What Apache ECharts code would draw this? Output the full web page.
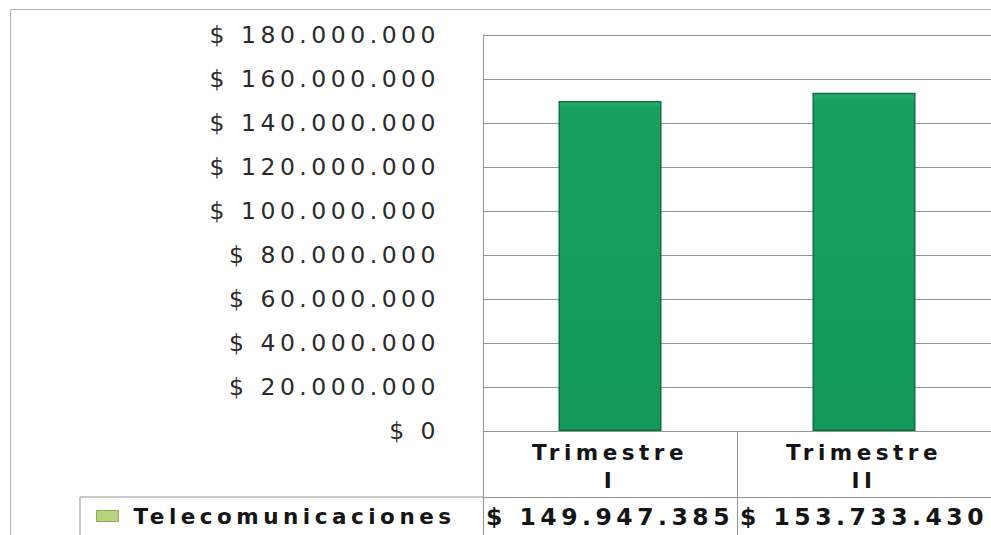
<!DOCTYPE html>
<html>
<head>
<meta charset="utf-8">
<script src="https://cdn.jsdelivr.net/npm/echarts@6/dist/echarts.min.js"></script>
<style>
  html, body { margin: 0; padding: 0; background: #fff; }
  #chart { width: 991px; height: 535px; }
  #chart svg text { letter-spacing: 4.5px; }
</style>
</head>
<body>
<div id="chart"></div>
<script>
const categories = ['Trimestre\nI', 'Trimestre\nII'];
const seriesName = 'Telecomunicaciones';
const values = [149947385, 153733430];
const yMin = 0, yMax = 180000000, yStep = 20000000;

function fmt(n) {
  return '$ ' + String(n).replace(/\B(?=(\d{3})+(?!\d))/g, '.');
}

const chart = echarts.init(document.getElementById('chart'), null, { renderer: 'svg' });
const lineCol = '#959595';
chart.setOption({
  animation: false,
  backgroundColor: '#fff',
  textStyle: { fontFamily: 'DejaVu Sans' },
  graphic: [{
    type: 'rect', silent: true,
    shape: { x: 10.5, y: 9.5, width: 1000, height: 600 },
    style: { fill: 'none', stroke: '#b0b0b0', lineWidth: 1 }
  }],
  grid: { left: 483, top: 35, right: 0, bottom: 104, containLabel: false },
  legend: {
    data: [seriesName],
    left: 80, top: 497,
    padding: [8, 109, 20, 16],
    borderColor: lineCol, borderWidth: 1,
    icon: 'rect', itemWidth: 22, itemHeight: 11, itemGap: 10,
    itemStyle: { color: '#b9d27e', borderColor: '#8fae55', borderWidth: 1 },
    textStyle: {
      fontFamily: 'DejaVu Sans', fontWeight: 'bold', fontSize: 21.5, color: '#151515',
      padding: [0, 0, 0, 10]
    }
  },
  xAxis: [{
    type: 'category', data: categories, position: 'bottom',
    axisLine: { show: true, lineStyle: { color: lineCol, width: 1 } },
    axisTick: { show: true, alignWithLabel: false, length: 104, lineStyle: { color: lineCol } },
    axisLabel: {
      fontFamily: 'DejaVu Sans', fontWeight: 'bold', fontSize: 21.5, color: '#151515',
      lineHeight: 28, margin: 7, interval: 0
    },
    splitLine: { show: false }
  }, {
    type: 'category', data: categories, position: 'bottom', offset: 66,
    axisLine: { show: true, lineStyle: { color: lineCol, width: 1 } },
    axisTick: { show: false },
    axisLabel: {
      fontFamily: 'DejaVu Sans', fontWeight: 'bold', fontSize: 23.5, color: '#151515',
      margin: 8, interval: 0,
      formatter: function (v, i) { return fmt(values[i]); }
    }
  }],
  yAxis: {
    type: 'value', min: yMin, max: yMax, interval: yStep,
    axisLine: { show: true, lineStyle: { color: lineCol } },
    axisTick: { show: false },
    splitLine: { show: true, lineStyle: { color: lineCol, width: 1 } },
    axisLabel: {
      fontFamily: 'DejaVu Sans', fontSize: 23.5, color: '#2a2a2a', margin: 43,
      formatter: function (v) { return fmt(v); }
    }
  },
  series: [{
    name: seriesName, type: 'bar', xAxisIndex: 0, data: values, barWidth: 103,
    itemStyle: {
      color: new echarts.graphic.LinearGradient(0, 0, 0, 1, [
        { offset: 0, color: '#2bb070' }, { offset: 0.02, color: '#18a060' }, { offset: 1, color: '#15985a' }
      ]),
      borderColor: '#0f6f42', borderWidth: 1.5
    }
  }]
});
</script>
</body>
</html>
